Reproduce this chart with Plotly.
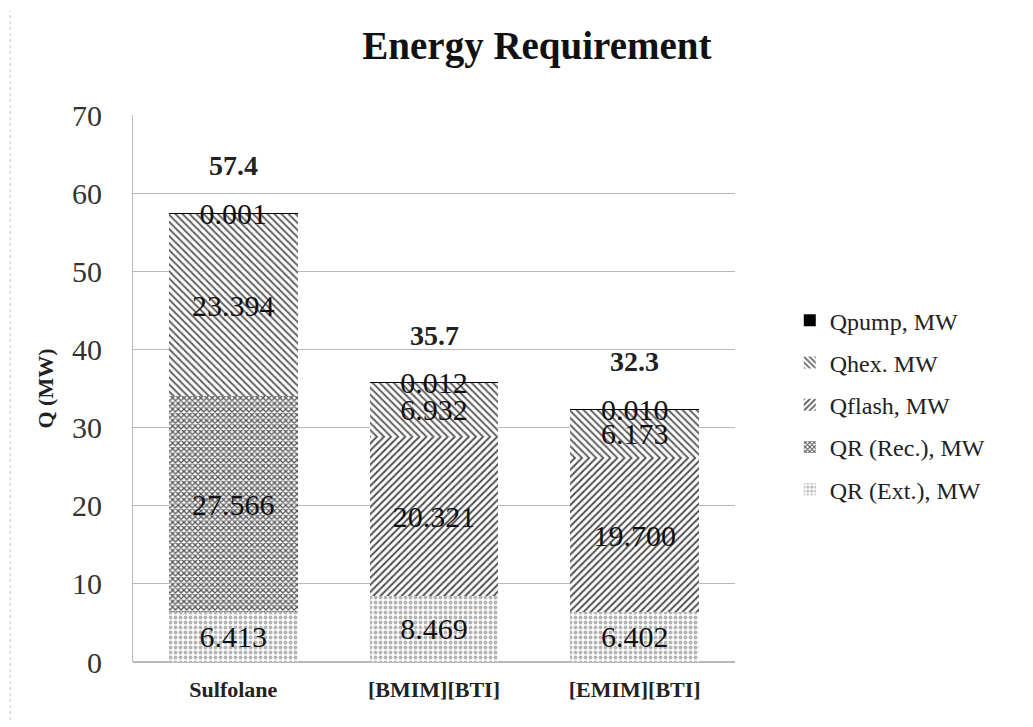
import plotly.graph_objects as go

categories = ["Sulfolane", "[BMIM][BTI]", "[EMIM][BTI]"]
qr_ext = [6.413, 8.469, 6.402]
qr_rec = [27.566, None, None]
qflash = [None, 20.321, 19.700]
qhex = [23.394, 6.932, 6.173]
qpump = [0.001, 0.012, 0.010]
totals = [57.4, 35.7, 32.3]
y_ticks = [0, 10, 20, 30, 40, 50, 60, 70]

FONT = "Liberation Serif, Times New Roman, serif"

# name, values, pattern, colour, size, solidity, labels, legend rank
series = [
    ("QR (Ext.), MW", qr_ext, ".", "#b4b4b4", 5, 0.45, ["6.413", "8.469", "6.402"], 5),
    ("QR (Rec.), MW", qr_rec, "x", "#555555", 4, 0.55, ["27.566", "", ""], 4),
    ("Qflash, MW", qflash, "/", "#505050", 5, 0.4, ["", "20.321", "19.700"], 3),
    ("Qhex. MW", qhex, "\\", "#606060", 5, 0.4, ["23.394", "6.932", "6.173"], 2),
    ("Qpump, MW", qpump, "", "#000000", 8, 0.5, ["0.001", "0.012", "0.010"], 1),
]

fig = go.Figure()
for name, vals, shape, col, size, sol, txt, rank in series:
    marker = dict(color=col if shape == "" else "white", line=dict(width=0))
    if shape:
        marker["pattern"] = dict(shape=shape, fgcolor=col, bgcolor="white",
                                 size=size, solidity=sol, fillmode="replace")
    fig.add_trace(go.Bar(
        x=categories, y=vals, name=name, marker=marker,
        text=txt, textposition="inside", insidetextanchor="middle",
        textangle=0, constraintext="none", cliponaxis=False,
        textfont=dict(family=FONT, size=30, color="#111"),
        legendgroup=name, legendrank=rank,
    ))

for c, t in zip(categories, totals):
    fig.add_annotation(x=c, y=t, text=f"<b>{t}</b>", showarrow=False,
                       yshift=48, font=dict(family=FONT, size=28, color="#222"))

fig.update_layout(
    barmode="stack",
    bargap=0.36,
    width=1033, height=727,
    margin=dict(l=125, r=306, t=107, b=73),
    paper_bgcolor="white", plot_bgcolor="white",
    uniformtext=dict(mode="show", minsize=30),
    title=dict(text="<b>Energy Requirement</b>", x=0.512, xanchor="center",
               y=0.949, yanchor="middle",
               font=dict(family=FONT, size=39, color="#111")),
    legend=dict(x=1.091, y=0.665, xanchor="left", yanchor="top",
                traceorder="grouped", tracegroupgap=8,
                font=dict(family=FONT, size=24, color="#222")),
    xaxis=dict(showline=False, ticks="", ticklabelstandoff=12,
               tickfont=dict(family=FONT, size=22, color="#222"),
               tickprefix="<b>", ticksuffix="</b>"),
    yaxis=dict(range=[0, 70], tickvals=y_ticks, showgrid=True,
               gridcolor="#b8b8b8", gridwidth=1, zeroline=True,
               zerolinecolor="#b8b8b8", showline=True, linecolor="#b8b8b8",
               ticks="", ticklen=0, ticklabelstandoff=24,
               tickfont=dict(family=FONT, size=30, color="#333"),
               title=dict(text="<b>Q (MW)</b>", standoff=12,
                          font=dict(family=FONT, size=22, color="#222"))),
)

fig.add_shape(type="line", xref="paper", yref="paper",
              x0=-0.204, x1=-0.204, y0=-0.106, y1=1.19,
              line=dict(color="#c8c8c8", width=1, dash="dot"))

fig.write_html("out.html")
